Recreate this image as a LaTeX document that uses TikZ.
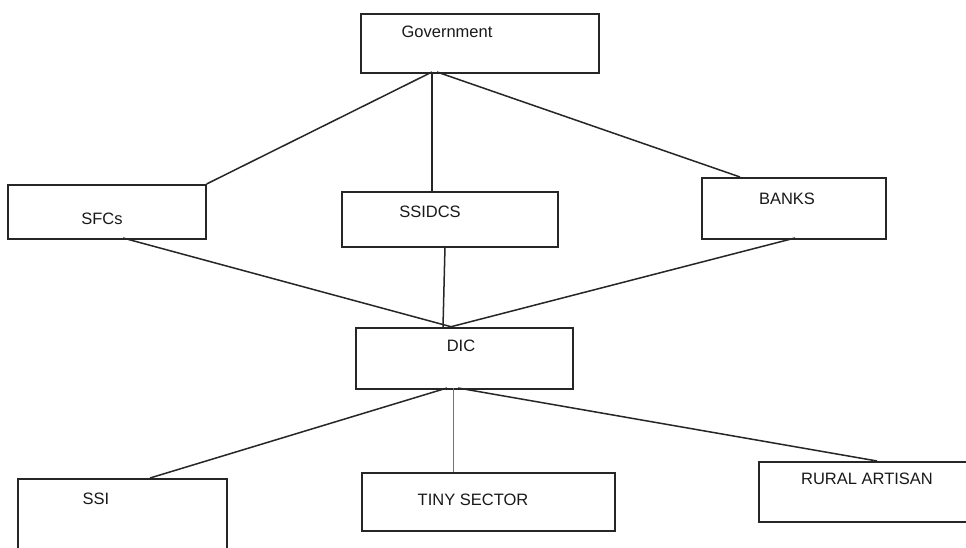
\documentclass[tikz,border=0pt]{standalone}
\usepackage{fontspec}
\setmainfont{Liberation Sans}
\begin{document}
\begin{tikzpicture}[x=1pt,y=-1pt,
  box/.style={draw=black!85,line width=1.6pt,anchor=north west,inner sep=0pt},
  lbl/.style={font=\fontsize{16.5}{19}\selectfont,inner sep=0pt,text=black!90},
  conn/.style={draw=black!85,line width=1.5pt},
  thinconn/.style={draw=black!55,line width=0.7pt}]
\useasboundingbox (0,0) rectangle (966,548);
\clip (0,0) rectangle (966,548);
\fill[white] (0,0) rectangle (966,548);
% boxes
\node[box,minimum width=238pt,minimum height=59pt] (gov) at (360,13) {};
\node[box,minimum width=198pt,minimum height=54pt] (sfc) at (7,184) {};
\node[box,minimum width=216pt,minimum height=55pt] (ssidcs) at (341,191) {};
\node[box,minimum width=184pt,minimum height=61pt] (banks) at (701,177) {};
\node[box,minimum width=217pt,minimum height=61pt] (dic) at (355,327) {};
\node[box,minimum width=209pt,minimum height=90pt] (ssi) at (17,478) {};
\node[box,minimum width=253pt,minimum height=58pt] (tiny) at (361,472) {};
\node[box,minimum width=230pt,minimum height=60pt] (rural) at (758,461) {};
% labels
\node[lbl] (govt) at (447,32) {Government};
\node[lbl] (sfct) at (102,219) {SFCs};
\node[lbl] (ssidcst) at (430,212) {SSIDCS};
\node[lbl] (bankst) at (787,199) {BANKS};
\node[lbl] (dict) at (461,346) {DIC};
\node[lbl] (ssit) at (96,499) {SSI};
\node[lbl] (tinyt) at (473,500) {TINY SECTOR};
\node[lbl] (ruralt) at (867,479) {RURAL ARTISAN};
% connection points
\coordinate (g1) at (432,72);
\coordinate (g2) at (437,72);
\coordinate (s1) at (432,191);
\coordinate (b1) at (740,177);
\coordinate (sf2) at (123,238);
\coordinate (ss2) at (445,246);
\coordinate (b2) at (795,238);
\coordinate (d1) at (452,327);
\coordinate (d2) at (443,327);
\coordinate (d3) at (450,327);
\coordinate (d4) at (447,388);
\coordinate (d5) at (453,388);
\coordinate (d6) at (458,388);
\coordinate (si1) at (150,478);
\coordinate (t1) at (453,472);
\coordinate (r1) at (877,461);
% connectors
\draw[conn] (g1) -- (sfc.north east);
\draw[conn] (g1) -- (s1);
\draw[conn] (g2) -- (b1);
\draw[conn] (sf2) -- (d1);
\draw[conn] (ss2) -- (d2);
\draw[conn] (b2) -- (d3);
\draw[conn] (d4) -- (si1);
\draw[thinconn] (d5) -- (t1);
\draw[conn] (d6) -- (r1);
\end{tikzpicture}
\end{document}
